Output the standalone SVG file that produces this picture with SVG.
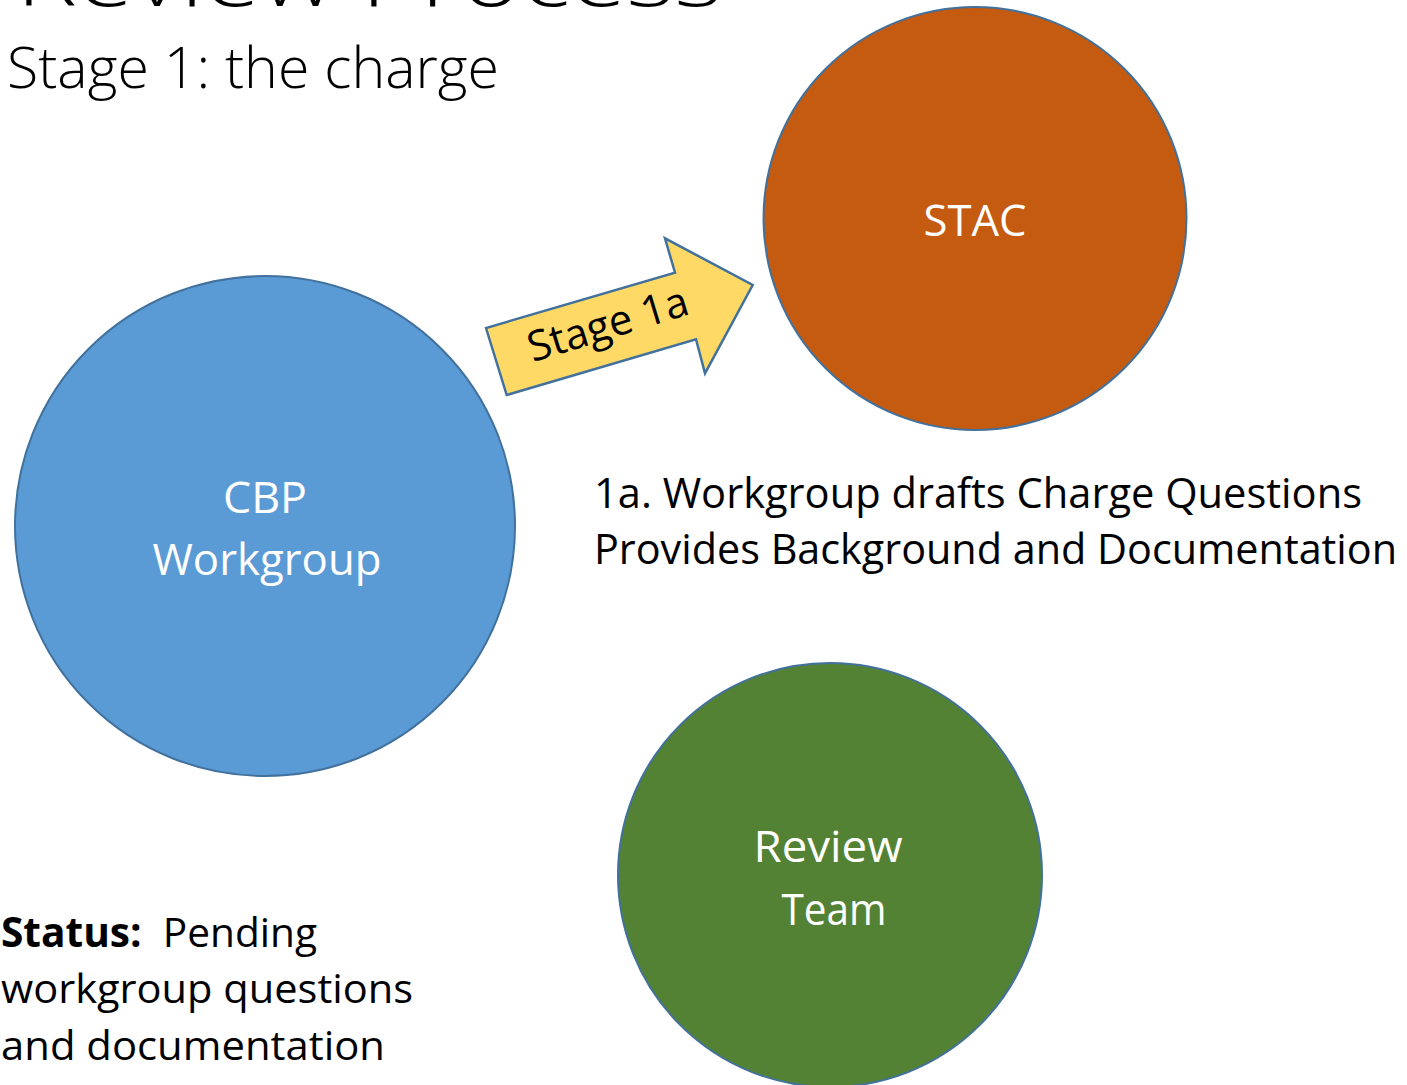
<svg xmlns="http://www.w3.org/2000/svg" width="1407" height="1085" viewBox="0 0 1407 1085">
<style>
.t{font-family:"Open Sans","Liberation Sans",sans-serif;fill:#000}
.lt{font-weight:300}
.w{fill:#fff;text-anchor:middle}
.node{stroke:#41719C;stroke-width:2}
</style>
<rect width="1407" height="1085" fill="#fff"/>
<text class="t lt" x="16" y="6" font-size="80" textLength="706" lengthAdjust="spacingAndGlyphs">Review Process</text>
<text class="t lt" x="7" y="88" font-size="57" textLength="492" lengthAdjust="spacingAndGlyphs">Stage 1: the charge</text>

<g id="cbp">
<circle class="node" cx="265" cy="526" r="250" fill="#5B9BD5"/>
<text class="t w" x="265" y="513" font-size="43" textLength="84" lengthAdjust="spacingAndGlyphs">CBP</text>
<text class="t w" x="267" y="575" font-size="43" textLength="229" lengthAdjust="spacingAndGlyphs">Workgroup</text>
</g>

<g id="stac">
<circle class="node" cx="975" cy="218.5" r="211.5" fill="#C55A11"/>
<text class="t w" x="975" y="236" font-size="43" textLength="103" lengthAdjust="spacingAndGlyphs">STAC</text>
</g>

<g id="review-team">
<circle class="node" cx="830" cy="875" r="212" fill="#548235"/>
<text class="t w" x="828" y="862" font-size="43" textLength="149" lengthAdjust="spacingAndGlyphs">Review</text>
<text class="t w" x="834" y="925" font-size="43" textLength="105" lengthAdjust="spacingAndGlyphs">Team</text>
</g>

<g id="connectors">
<g id="stage-1a">
<polygon points="486,328 506.7,395 696,339.3 705,373.3 752.7,285 665,238.3 675,272.7" fill="#FFD966" stroke="#41719C" stroke-width="2.5" stroke-linejoin="miter"/>
<text class="t" transform="translate(612,338) rotate(-17)" x="0" y="0" font-size="42" text-anchor="middle" textLength="166" lengthAdjust="spacingAndGlyphs">Stage 1a</text>
</g>
</g>

<g id="description">
<text class="t" x="594" y="508" font-size="42" textLength="768" lengthAdjust="spacingAndGlyphs">1a. Workgroup drafts Charge Questions</text>
<text class="t" x="594" y="564" font-size="42" textLength="803" lengthAdjust="spacingAndGlyphs">Provides Background and Documentation</text>
</g>

<g id="status">
<text class="t" x="1" y="947" font-size="41" textLength="316" lengthAdjust="spacingAndGlyphs" style="white-space:pre"><tspan font-weight="700">Status:</tspan>  Pending</text>
<text class="t" x="1" y="1003" font-size="41" textLength="412" lengthAdjust="spacingAndGlyphs">workgroup questions</text>
<text class="t" x="1" y="1060" font-size="41" textLength="384" lengthAdjust="spacingAndGlyphs">and documentation</text>
</g>
</svg>
